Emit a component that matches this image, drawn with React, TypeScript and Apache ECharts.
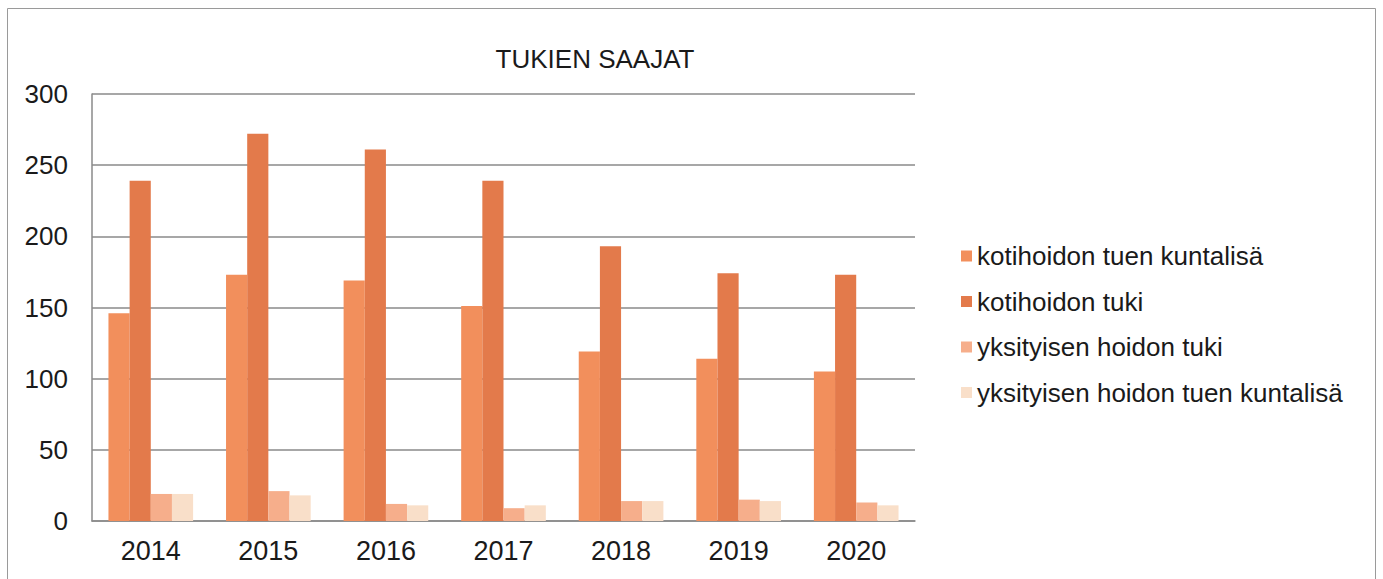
import React, { useEffect, useRef } from "react";
import * as echarts from "echarts";

const years = ["2014", "2015", "2016", "2017", "2018", "2019", "2020"];
const seriesNames = [
  "kotihoidon tuen kuntalisä",
  "kotihoidon tuki",
  "yksityisen hoidon tuki",
  "yksityisen hoidon tuen kuntalisä",
];
const kotihoidonKuntalisa = [146, 173, 169, 151, 119, 114, 105];
const kotihoidonTuki = [239, 272, 261, 239, 193, 174, 173];
const yksityisenTuki = [19, 21, 12, 9, 14, 15, 13];
const yksityisenKuntalisa = [19, 18, 11, 11, 14, 14, 11];
const colors = ["#F28F5C", "#E37A4B", "#F6AE8B", "#F9DFC9"];

export default function App() {
  const ref = useRef<HTMLDivElement>(null);
  useEffect(() => {
    if (!ref.current) return;
    const chart = echarts.init(ref.current, undefined, { renderer: "svg" });
    const font = "Liberation Sans, Arial, sans-serif";
    const data = [kotihoidonKuntalisa, kotihoidonTuki, yksityisenTuki, yksityisenKuntalisa];
    chart.setOption({
      animation: false,
      backgroundColor: "#ffffff",
      textStyle: { fontFamily: font },
      graphic: [
        {
          type: "rect",
          shape: { x: 7.5, y: 8.5, width: 1368, height: 600 },
          style: { fill: "none", stroke: "#9a9a9a", lineWidth: 1 },
          silent: true,
        },
      ],
      title: {
        text: "TUKIEN SAAJAT",
        left: 590,
        textAlign: "center",
        top: 41,
        textStyle: { fontFamily: font, fontSize: 26, fontWeight: "normal", color: "#1a1a1a" },
      },
      legend: {
        orient: "vertical",
        left: 956,
        top: 238,
        itemWidth: 11,
        itemHeight: 11,
        itemGap: 19.5,
        icon: "rect",
        data: seriesNames,
        textStyle: { fontFamily: font, fontSize: 26, color: "#1a1a1a", padding: [0, 0, 0, 0] },
      },
      grid: { left: 92, right: 468, top: 94, bottom: 58 },
      xAxis: {
        type: "category",
        data: years,
        axisLine: { show: true, lineStyle: { color: "#8a8a8a", width: 1.5 } },
        axisTick: { show: false },
        axisLabel: { fontFamily: font, fontSize: 27, color: "#1a1a1a", margin: 16 },
      },
      yAxis: {
        type: "value",
        min: 0,
        max: 300,
        interval: 50,
        axisLine: { show: true, lineStyle: { color: "#8a8a8a", width: 1.5 } },
        axisTick: { show: false },
        splitLine: { lineStyle: { color: "#8a8a8a", width: 1.5 } },
        axisLabel: { fontFamily: font, fontSize: 26, color: "#1a1a1a", margin: 24 },
      },
      series: seriesNames.map((name, i) => ({
        name,
        type: "bar",
        data: data[i],
        barGap: "0%",
        barCategoryGap: "28%",
        itemStyle: { color: colors[i] },
      })),
    });
    return () => chart.dispose();
  }, []);
  return (
    <div
      ref={ref}
      style={{ position: "fixed", left: 0, top: 0, width: 1383, height: 579 }}
    />
  );
}
